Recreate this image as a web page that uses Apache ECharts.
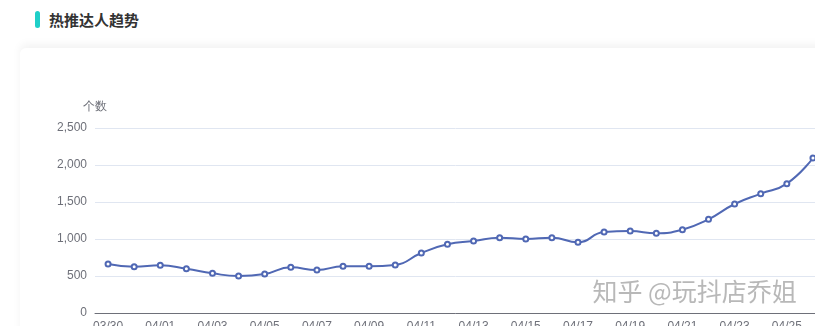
<!DOCTYPE html>
<html>
<head>
<meta charset="utf-8">
<script src="https://cdn.jsdelivr.net/npm/echarts@6/dist/echarts.min.js"></script>
<style>
  html, body { margin: 0; padding: 0; background: #fff; }
  body { width: 815px; height: 326px; position: relative; overflow: hidden; font-family: "Noto Sans CJK SC", sans-serif; }
  .head { position: absolute; left: 0; top: 0; width: 815px; height: 48px; background: #fff; }
  .head .mark { position: absolute; left: 35px; top: 11px; width: 5px; height: 17px; border-radius: 3px; background: #1fcfc8; }
  .head .txt { position: absolute; left: 49px; top: 8px; font-size: 15px; font-weight: 600; color: #333; line-height: 24px; }
  .card { position: absolute; left: 20px; top: 48px; width: 820px; height: 300px; background: #fff; border-radius: 6px; box-shadow: 0 -4px 8px rgba(0,0,0,0.05); }
  .chart { position: absolute; left: 0; top: 0; width: 815px; height: 326px; }
</style>
</head>
<body>
<div class="head"><div class="mark"></div><div class="txt">热推达人趋势</div></div>
<div class="card"></div>
<div class="chart"></div>
<script>
var dates = ['03/30','03/31','04/01','04/02','04/03','04/04','04/05','04/06','04/07','04/08',
  '04/09','04/10','04/11','04/12','04/13','04/14','04/15','04/16','04/17','04/18',
  '04/19','04/20','04/21','04/22','04/23','04/24','04/25','04/26'];
var counts = [662, 626, 644, 599, 536, 500, 527, 617, 581, 631,
  631, 649, 811, 928, 973, 1018, 1000, 1018, 955, 1095,
  1108, 1077, 1126, 1266, 1473, 1613, 1748, 2095];

var chart = echarts.init(document.querySelector('.chart'));

var option = {
  animation: false,
  grid: { left: 95, right: -11, top: 128, bottom: 13, outerBoundsMode: 'none', containLabel: false },
  xAxis: {
    type: 'category',
    data: dates,
    boundaryGap: true,
    axisTick: { alignWithLabel: true, interval: 1 },
    axisLabel: { interval: 1, color: '#6E7079', fontSize: 12, margin: 8 },
    axisLine: { lineStyle: { color: '#6E7079' } }
  },
  yAxis: {
    type: 'value',
    name: '个数',
    min: 0,
    max: 2500,
    interval: 500,
    nameTextStyle: { color: '#6E7079', fontSize: 12 },
    axisLabel: { color: '#6E7079', fontSize: 12 },
    splitLine: { lineStyle: { color: '#E0E6F1' } }
  },
  series: [
    {
      name: '个数',
      type: 'line',
      smooth: true,
      symbol: 'emptyCircle',
      symbolSize: 5,
      data: counts,
      lineStyle: { color: '#5068b4', width: 2 },
      itemStyle: { color: '#5068b4', borderWidth: 1.5 }
    }
  ],
  graphic: [
    {
      type: 'text',
      left: 592,
      top: 278,
      z: 100,
      style: {
        text: '知乎 @玩抖店乔姐',
        font: '25px "Noto Sans CJK SC"',
        fill: 'rgba(160,160,160,0.75)',
        stroke: 'rgba(255,255,255,0.8)',
        lineWidth: 1
      }
    }
  ]
};

chart.setOption(option);
</script>
</body>
</html>
